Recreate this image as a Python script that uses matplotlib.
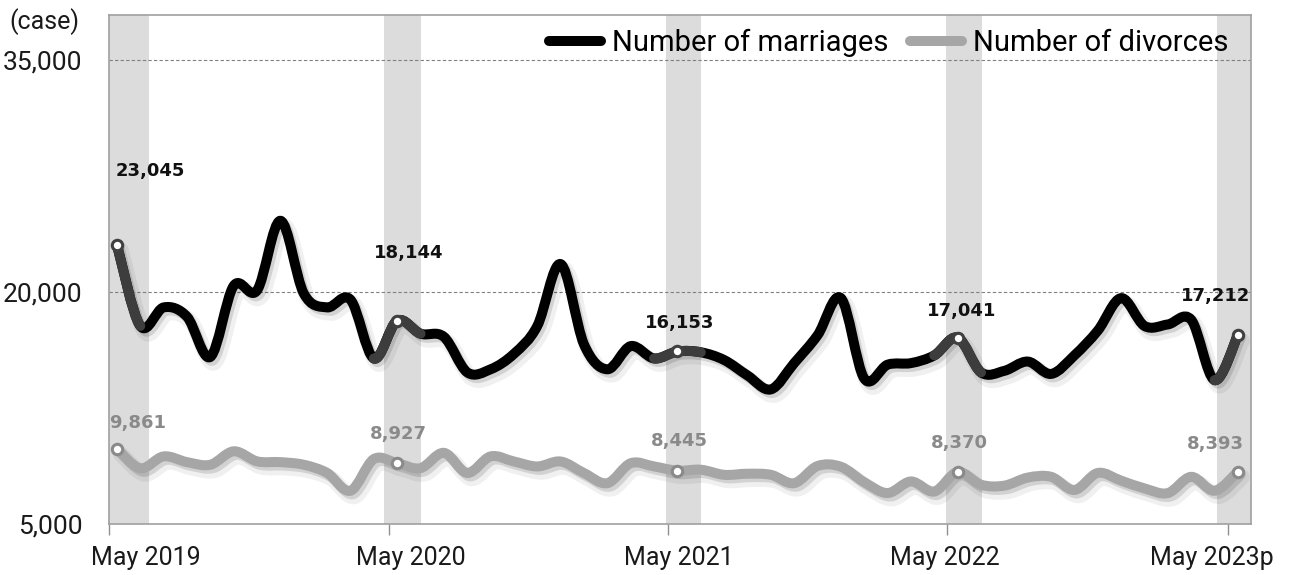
import matplotlib
matplotlib.use("Agg")
import matplotlib.pyplot as plt
import matplotlib.patheffects as pe
from matplotlib.path import Path
from matplotlib.patches import PathPatch
from matplotlib.lines import Line2D
from matplotlib.ticker import FuncFormatter, FixedLocator
import numpy as np

# monthly values, May 2019 .. May 2023p
marriages = [23045, 17800, 19000, 18400, 15800, 20400, 20100, 24600, 19900, 19000,
             19500, 15700, 18144, 17300, 17100, 14800, 15000, 16000, 17800, 21800,
             16600, 15000, 16500, 15700, 16153, 16100, 15600, 14600, 13700, 15400,
             17200, 19600, 14400, 15300, 15400, 15900, 17041, 14800, 14900, 15500,
             14700, 15900, 17500, 19600, 17800, 17900, 18200, 14300, 17212]
divorces = [9861, 8600, 9370, 9000, 8830, 9700, 9050, 9000, 8830, 8300,
            7150, 9200, 8927, 8610, 9600, 8300, 9370, 9040, 8720, 9040,
            8290, 7640, 8930, 8720, 8445, 8510, 8180, 8250, 8180, 7640,
            8750, 8700, 7700, 7000, 7750, 7100, 8370, 7540, 7480, 8000,
            8050, 7200, 8300, 7800, 7300, 7000, 8050, 7150, 8393]
marked = [0, 12, 24, 36, 48]   # May of each year
tick_labels = ["May 2019", "May 2020", "May 2021", "May 2022", "May 2023p"]
series_names = ["Number of marriages", "Number of divorces"]

plt.rcParams["font.family"] = ["Roboto", "DejaVu Sans"]

# styling positions
label_pos = [1.25, 12.6, 24.05, 35.45, 46.9]
tick_pos = [-0.34, 11.65, 23.6, 35.55, 47.58]
bands = [(-0.5, 1.37), (11.45, 13.0), (23.5, 25.0), (35.5, 37.05), (47.1, 49.0)]
off_m = [(33, 74), (12, 68), (2, 28), (4, 27), (-22, 39)]
off_d = [(21, 26), (1.5, 29), (1.5, 30), (2, 29), (-22.5, 28)]


def smooth_path(x, y, i0, i1):
    # excel-like smoothed line: cubic bezier through the points
    n = len(x)
    pts = np.column_stack([x, y]).astype(float)
    verts = [pts[i0]]
    codes = [Path.MOVETO]
    for i in range(i0, i1):
        p0 = pts[max(i - 1, 0)]
        p1 = pts[i]
        p2 = pts[i + 1]
        p3 = pts[min(i + 2, n - 1)]
        verts += [p1 + (p2 - p0) / 6, p2 - (p3 - p1) / 6, p2]
        codes += [Path.CURVE4] * 3
    return Path(verts, codes)


def draw_line(ax, x, y, color, lw, shadow=True, i0=0, i1=None, z=3):
    if i1 is None:
        i1 = len(x) - 1
    patch = PathPatch(smooth_path(x, y, i0, i1), fill=False, edgecolor=color,
                      linewidth=lw, capstyle="round", joinstyle="round", zorder=z)
    if shadow:
        patch.set_path_effects([
            pe.SimpleLineShadow(offset=(3, -4), shadow_color="k", alpha=0.06, linewidth=lw + 4),
            pe.SimpleLineShadow(offset=(2, -2.5), shadow_color="k", alpha=0.12),
            pe.Normal()])
    ax.add_patch(patch)


fig = plt.figure(figsize=(12.9, 5.75), dpi=100)
ax = fig.add_axes([109 / 1290, 51 / 575, (1251 - 109) / 1290, (575 - 15 - 51) / 575])

x = np.arange(len(marriages))

for a, b in bands:
    ax.axvspan(a, b, color="#dcdcdc", lw=0, zorder=0.2)

lw = 7.2
draw_line(ax, x, divorces, "#a6a6a6", lw)
draw_line(ax, x, marriages, "#000000", lw)
for h in marked:
    a = max(h - 1, 0)
    b = min(h + 1, len(x) - 1)
    draw_line(ax, x, marriages, "#3d3d3d", lw, shadow=False, i0=a, i1=b, z=3.5)

ax.plot(x[marked], [marriages[i] for i in marked], "o", ms=7.5, mfc="white",
        mec="#404040", mew=2.2, zorder=5)
ax.plot(x[marked], [divorces[i] for i in marked], "o", ms=7.5, mfc="white",
        mec="#8a8a8a", mew=2.2, zorder=5)

for k, h in enumerate(marked):
    ax.annotate(f"{marriages[h]:,}", (x[h], marriages[h]), xytext=off_m[k],
                textcoords="offset pixels", ha="center", va="center",
                fontsize=13, fontweight="bold", family="DejaVu Sans", color="#111111")
    ax.annotate(f"{divorces[h]:,}", (x[h], divorces[h]), xytext=off_d[k],
                textcoords="offset pixels", ha="center", va="center",
                fontsize=13, fontweight="bold", family="DejaVu Sans", color="#8a8a8a")

ax.set_xlim(-0.34, 48.56)
ax.set_ylim(5000, 37900)
ax.set_yticks([5000, 20000, 35000])
ax.yaxis.set_major_formatter(FuncFormatter(lambda v, p: f"{int(v):,}"))
ax.yaxis.grid(True, color="#808080", linestyle=(0, (3, 2)), linewidth=0.8)
ax.set_axisbelow(True)
ax.tick_params(axis="y", length=0, pad=19, labelsize=19, labelcolor="#1a1a1a")

ax.set_xticks(label_pos)
ax.set_xticklabels(tick_labels)
ax.xaxis.set_minor_locator(FixedLocator(tick_pos))
ax.tick_params(axis="x", which="major", length=0, pad=16, labelsize=18, labelcolor="#1a1a1a")
ax.tick_params(axis="x", which="minor", length=8, width=1, color="#909090", direction="out")

for s in ax.spines.values():
    s.set_color("#a0a0a0")
    s.set_linewidth(1.2)

handles = [Line2D([], [], color="#000000", lw=lw, solid_capstyle="round"),
           Line2D([], [], color="#a6a6a6", lw=lw, solid_capstyle="round")]
ax.legend(handles, series_names, loc="upper right", ncol=2, frameon=False,
          fontsize=21, handlelength=1.8, handletextpad=0.35, columnspacing=0.75,
          bbox_to_anchor=(0.99, 0.995), borderaxespad=0)

fig.text(44 / 1290, 1 - 22 / 575, "(case)", ha="center", va="center",
         fontsize=18, color="#1a1a1a")

fig.savefig("out.png", dpi=100)
